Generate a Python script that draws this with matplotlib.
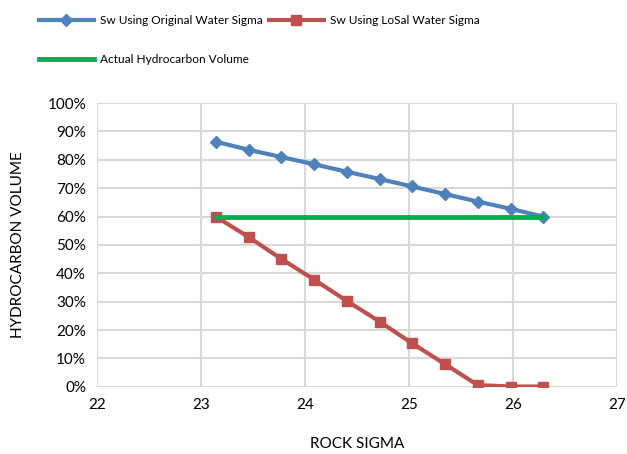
import numpy as np
import matplotlib.pyplot as plt
from matplotlib.ticker import FuncFormatter

plt.rcParams['font.family'] = ['Lato', 'DejaVu Sans']

# data
rock_sigma = [23.14, 23.46, 23.77, 24.09, 24.40, 24.72, 25.03, 25.35, 25.66, 25.98, 26.29]
sw_original = [86.4, 83.5, 81.0, 78.4, 75.8, 73.2, 70.6, 67.9, 65.3, 62.7, 60.0]
sw_losal = [60.0, 52.7, 45.1, 37.7, 30.3, 22.9, 15.3, 7.9, 0.6, 0.1, 0.1]
actual_x = [23.14, 26.29]
actual_hc = [60.0, 60.0]

blue = '#4F81BD'
red = '#C0504D'
green = '#00B050'

fig = plt.figure(figsize=(6.27, 4.54), dpi=100)
ax = fig.add_axes([0.155, 0.148, 0.829, 0.625])

l1, = ax.plot(rock_sigma, sw_original, color=blue, lw=3, marker='D', ms=6,
              label='Sw Using Original Water Sigma', zorder=3)
l2, = ax.plot(rock_sigma, sw_losal, color=red, lw=3, marker='s', ms=7,
              label='Sw Using LoSal Water Sigma', zorder=3)
l3, = ax.plot(actual_x, actual_hc, color=green, lw=3.5,
              label='Actual Hydrocarbon Volume', zorder=4)

ax.set_xlim(22, 27)
ax.set_ylim(0, 100)
ax.set_xticks(np.arange(22, 28, 1))
ax.set_yticks(np.arange(0, 101, 10))
ax.yaxis.set_major_formatter(FuncFormatter(lambda v, p: '%d%%' % v))
ax.grid(True, color='#D9D9D9', lw=1.5)
ax.set_axisbelow(True)
for s in ax.spines.values():
    s.set_visible(False)
ax.tick_params(length=0, labelsize=11, colors='black', pad=8)

ax.set_xlabel('ROCK SIGMA', fontsize=11, labelpad=18)
ax.set_ylabel('HYDROCARBON VOLUME', fontsize=11, labelpad=16)

fig.legend([l1, l3, l2], [l1.get_label(), l3.get_label(), l2.get_label()],
           ncol=2, loc='upper left', bbox_to_anchor=(0.045, 0.99),
           frameon=False, fontsize=8.6, handlelength=4.6, handletextpad=0.5,
           columnspacing=0.5, labelspacing=2.35)

plt.savefig('out.png', dpi=100)
